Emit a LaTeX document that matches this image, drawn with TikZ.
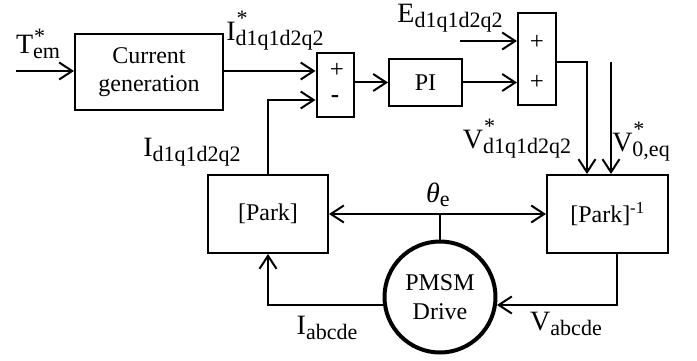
\documentclass[tikz,border=0pt]{standalone}
\usepackage{fontspec}
\setmainfont{Liberation Serif}
\usetikzlibrary{arrows.meta}
\newcommand\symb[4]{#1\rlap{\raisebox{#4}{\fontsize{22}{22}\selectfont\kern1pt #2}}\raisebox{-5pt}{\fontsize{22}{22}\selectfont #3}}
\begin{document}
\begin{tikzpicture}[x=1pt,y=-1pt,line width=2pt,
  blk/.style={draw,rectangle,inner sep=0pt,align=center,font=\fontsize{24}{28}\selectfont},
  pm/.style={inner sep=0pt,font=\fontsize{25}{25}\selectfont},
  arr/.style={-{Straight Barb[length=13pt,width=17pt,line width=2pt]}},
  darr/.style={{Straight Barb[length=13pt,width=17pt,line width=2pt]}-{Straight Barb[length=13pt,width=17pt,line width=2pt]}},
  lab/.style={inner sep=0pt,font=\fontsize{28}{28}\selectfont}]
\useasboundingbox (0,0) rectangle (697,361);
% blocks
\node[blk,minimum width=148pt,minimum height=76pt] (cg) at (149,72.5) {Current\\generation};
\node[blk,minimum width=37pt,minimum height=64pt] (s1) at (335,85) {};
\node[pm] (s1p) at (337,70) {+};
\node[pm] (s1m) at (335,99) {\bfseries -};
\node[blk,minimum width=73pt,minimum height=47pt] (pi) at (425.5,82.5) {PI};
\node[blk,minimum width=38pt,minimum height=92pt] (s2) at (537,59) {};
\node[pm] (s2a) at (537,42) {+};
\node[pm] (s2b) at (537,82) {+};
\node[blk,minimum width=120pt,minimum height=78pt] (pk) at (268,214) {[Park]};
\node[blk,minimum width=121pt,minimum height=78pt] (pki) at (607.5,214) {[Park]\textsuperscript{-1}};
\node[draw,circle,line width=4pt,minimum size=111pt,inner sep=0pt,align=center,
      font=\fontsize{24}{29}\selectfont] (drv) at (440,297) {PMSM\\Drive};
% connectors
\coordinate (tin) at (16,71);
\draw[arr] (tin) -- (tin -| cg.west);
\draw[arr] (cg.east |- tin) -- (s1.west |- tin);
\coordinate (m1) at (0,100);
\draw[arr] (pk.north) |- (s1.west |- m1);
\draw[arr] (s1.east |- pi.west) -- (pi.west);
\draw[arr] (pi.east) -- (pi.east -| s2.west);
\coordinate (ein) at (460,41);
\draw[arr] (ein) -- (ein -| s2.west);
\coordinate (vo) at (587,62);
\draw[arr] (s2.east |- vo) -- (vo) -- (vo |- pki.north);
\coordinate (v0) at (611,62);
\draw[arr] (v0) -- (v0 |- pki.north);
\draw[darr] (pk.east) -- (pki.west);
\draw (drv.north) -- (drv.north |- pk.east);
\coordinate (vb) at (617,305);
\draw[arr] (pki.south -| vb) |- (drv.-8);
\draw[arr] (drv.188) -| (pk.south);
% labels
\node[lab] (lt) at (38,44) {\symb{T}{*}{em}{10pt}};
\node[lab] (lis) at (275,31) {\symb{I}{*}{d1q1d2q2}{15pt}};
\node[lab] (li) at (192,152) {\symb{I}{}{d1q1d2q2}{0pt}};
\node[lab] (le) at (450,18) {\symb{E}{}{d1q1d2q2}{0pt}};
\node[lab] (lv) at (517,139) {\symb{V}{*}{d1q1d2q2}{15pt}};
\node[lab] (lv0) at (641,142) {\symb{V}{*}{0,eq}{15pt}};
\node[lab] (lth) at (438,195) {{\itshape θ}\raisebox{-4pt}{\fontsize{22}{22}\selectfont e}};
\node[lab] (lia) at (327,328) {\symb{I}{}{abcde}{0pt}};
\node[lab] (lva) at (566,324) {\symb{V}{}{abcde}{0pt}};
\end{tikzpicture}
\end{document}
